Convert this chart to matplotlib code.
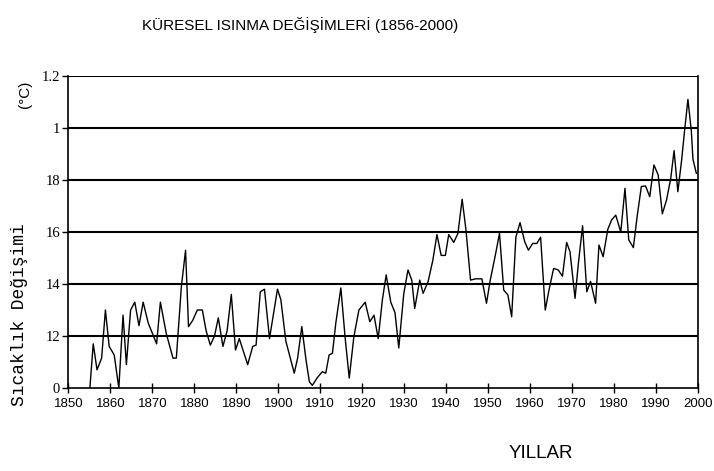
import matplotlib
matplotlib.use("Agg")
import matplotlib.pyplot as plt

# yillar ve sicaklik degisimi
years = [1855.1, 1855.9, 1856.8, 1857.9, 1858.8, 1859.7, 1860.9, 1862.0, 1863.0, 1863.8,
         1864.8, 1865.8, 1866.8, 1867.8, 1869.0, 1871.0, 1871.9, 1873.3, 1874.9, 1875.7,
         1876.9, 1877.9, 1878.6, 1879.6, 1880.7, 1881.9, 1882.8, 1883.8, 1884.8, 1885.7,
         1886.8, 1887.8, 1888.8, 1889.8, 1890.7, 1892.7, 1893.9, 1894.7, 1895.7, 1896.7,
         1897.9, 1899.8, 1900.6, 1901.8, 1903.8, 1904.6, 1905.6, 1906.6, 1907.4, 1908.1,
         1909.3, 1910.5, 1911.3, 1912.1, 1912.9, 1913.7, 1914.9, 1915.9, 1916.9, 1918.0,
         1919.2, 1920.7, 1921.8, 1922.8, 1923.8, 1924.8, 1925.7, 1926.8, 1927.8, 1928.7,
         1929.9, 1930.9, 1931.8, 1932.5, 1933.7, 1934.5, 1935.7, 1936.8, 1937.8, 1938.8,
         1939.8, 1940.6, 1941.8, 1942.8, 1943.8, 1944.7, 1945.8, 1947.0, 1948.5, 1949.6,
         1950.5, 1951.7, 1952.7, 1953.7, 1954.7, 1955.6, 1956.6, 1957.6, 1958.7, 1959.6,
         1960.6, 1961.6, 1962.5, 1963.6, 1964.5, 1965.6, 1966.7, 1967.7, 1968.7, 1969.5,
         1970.7, 1971.5, 1972.5, 1973.5, 1974.4, 1975.6, 1976.4, 1977.4, 1978.5, 1979.4,
         1980.4, 1981.6, 1982.6, 1983.5, 1984.6, 1985.5, 1986.5, 1987.5, 1988.5, 1989.5,
         1990.5, 1991.5, 1992.5, 1993.5, 1994.3, 1995.2, 1996.1, 1996.8, 1997.6, 1998.4,
         1998.8, 1999.6]
values = [0.00, 0.17, 0.07, 0.115, 0.30, 0.16, 0.127, 0.00, 0.28, 0.09,
          0.30, 0.33, 0.24, 0.33, 0.25, 0.17, 0.33, 0.21, 0.115, 0.115,
          0.39, 0.53, 0.236, 0.26, 0.30, 0.30, 0.22, 0.165, 0.20, 0.27,
          0.16, 0.22, 0.36, 0.146, 0.19, 0.09, 0.16, 0.165, 0.37, 0.38,
          0.19, 0.38, 0.34, 0.18, 0.057, 0.115, 0.236, 0.108, 0.024, 0.01,
          0.04, 0.063, 0.057, 0.127, 0.134, 0.25, 0.385, 0.197, 0.038, 0.197,
          0.30, 0.33, 0.255, 0.28, 0.19, 0.34, 0.435, 0.33, 0.29, 0.154,
          0.364, 0.454, 0.415, 0.306, 0.415, 0.364, 0.41, 0.49, 0.59, 0.51,
          0.51, 0.59, 0.56, 0.595, 0.726, 0.61, 0.415, 0.42, 0.42, 0.326,
          0.415, 0.51, 0.595, 0.377, 0.358, 0.274, 0.58, 0.636, 0.563, 0.53,
          0.556, 0.556, 0.58, 0.30, 0.377, 0.46, 0.454, 0.43, 0.56, 0.524,
          0.345, 0.48, 0.624, 0.37, 0.41, 0.326, 0.55, 0.505, 0.61, 0.646,
          0.665, 0.60, 0.768, 0.57, 0.54, 0.66, 0.775, 0.777, 0.736, 0.858,
          0.82, 0.67, 0.723, 0.806, 0.913, 0.755, 0.877, 0.99, 1.11, 0.99,
          0.88, 0.826]

xticks = list(range(1850, 2001, 10))
yticks = [0, 0.2, 0.4, 0.6, 0.8, 1.0, 1.2]
ytick_labels = ['0', '12', '14', '16', '18', '1', '1.2']

sans = ['Liberation Sans', 'DejaVu Sans']

fig = plt.figure(figsize=(7.14, 4.71), dpi=100)
ax = fig.add_axes([0.0959, 0.1762, 0.8817, 0.6624])

ax.plot(years, values, color='black', linewidth=1.0)

# yatay cizgiler
for y in yticks[1:]:
    ax.axhline(y, color='black', linewidth=1.5, zorder=0)

ax.set_xlim(1850, 2000)
ax.set_ylim(0, 1.2)
ax.set_xticks(xticks)
ax.set_xticklabels([str(t) for t in xticks], fontfamily=sans, fontsize=9.5)
ax.set_yticks(yticks)
ax.set_yticklabels(ytick_labels, fontfamily='Liberation Serif', fontsize=10.5)
ax.tick_params(axis='x', direction='inout', length=7, width=1, pad=4)
ax.tick_params(axis='y', direction='out', length=4, width=1, pad=2)

for s in ['left', 'bottom', 'right']:
    ax.spines[s].set_linewidth(1.2)
ax.spines['top'].set_visible(False)

fig.text(0.42, 0.947, 'KÜRESEL ISINMA DEĞİŞİMLERİ (1856-2000)', ha='center', va='center',
         fontfamily=sans, fontsize=11)
fig.text(0.758, 0.038, 'YILLAR', ha='center', va='center', fontfamily=sans, fontsize=13.5)
fig.text(0.028, 0.333, 'Sıcaklık Değişimi', rotation=90, ha='center', va='center',
         fontfamily='Liberation Mono', fontsize=13)
fig.text(0.035, 0.80, '(°C)', rotation=90, ha='center', va='center',
         fontfamily=sans, fontsize=11)

fig.savefig('out.png', dpi=100)
